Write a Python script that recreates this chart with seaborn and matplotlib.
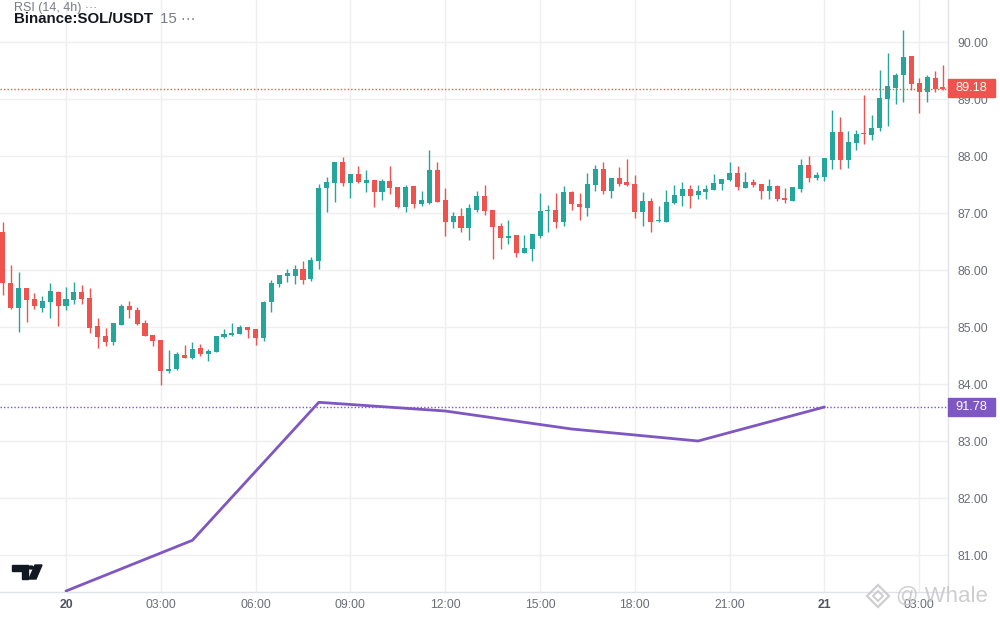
import numpy as np
import pandas as pd
import matplotlib
matplotlib.use("Agg")
import matplotlib.pyplot as plt
import seaborn as sns
from matplotlib.patches import Rectangle, Polygon, Circle

sns.set_theme(style="white")
plt.rcParams["font.family"] = ["Liberation Sans", "DejaVu Sans"]

# 15m candles, Binance SOL/USDT, from 19th 22:00
opens = [86.66, 85.78, 85.34, 85.68, 85.49, 85.34, 85.43, 85.61, 85.37, 85.48,
         85.61, 85.51, 85.01, 84.85, 84.74, 85.04, 85.37, 85.30, 85.07, 84.86,
         84.77, 84.22, 84.26, 84.51, 84.46, 84.63, 84.53, 84.57, 84.83, 84.86,
         84.88, 85.00, 84.97, 84.80, 85.43, 85.76, 85.90, 85.90, 86.02, 85.85,
         86.16, 87.43, 87.53, 87.90, 87.52, 87.69, 87.53, 87.58, 87.36, 87.56,
         87.46, 87.11, 87.48, 87.15, 87.18, 87.76, 87.23, 86.85, 86.95, 86.74,
         87.06, 87.30, 87.06, 86.78, 86.57, 86.62, 86.29, 86.37, 86.60, 87.04,
         87.05, 86.85, 87.37, 87.16, 87.09, 87.50, 87.77, 87.39, 87.61, 87.54,
         87.51, 87.01, 87.21, 86.86, 86.85, 87.18, 87.29, 87.42, 87.32, 87.37,
         87.40, 87.51, 87.58, 87.70, 87.44, 87.54, 87.51, 87.39, 87.47, 87.26,
         87.21, 87.42, 87.84, 87.61, 87.63, 87.93, 88.42, 87.93, 88.23, 88.39,
         88.37, 88.49, 89.00, 89.20, 89.42, 89.76, 89.28, 89.13, 89.37, 89.21]
highs = [86.85, 86.08, 85.97, 85.68, 85.60, 85.54, 85.77, 85.63, 85.70, 85.79,
         85.74, 85.68, 85.15, 84.99, 85.07, 85.40, 85.46, 85.35, 85.12, 84.86,
         84.77, 84.60, 84.56, 84.68, 84.73, 84.70, 84.61, 84.84, 84.97, 85.07,
         85.04, 85.00, 84.97, 85.46, 85.82, 85.91, 86.02, 86.09, 86.16, 86.22,
         87.51, 87.64, 87.90, 87.99, 87.69, 87.83, 87.76, 87.58, 87.60, 87.83,
         87.46, 87.50, 87.48, 87.38, 88.11, 87.90, 87.43, 87.02, 87.09, 87.15,
         87.38, 87.50, 87.06, 86.83, 86.88, 86.62, 86.61, 86.63, 87.35, 87.14,
         87.35, 87.47, 87.39, 87.35, 87.70, 87.84, 87.89, 87.61, 87.81, 87.95,
         87.67, 87.37, 87.26, 87.12, 87.40, 87.49, 87.54, 87.49, 87.49, 87.49,
         87.68, 87.60, 87.90, 87.83, 87.72, 87.60, 87.51, 87.60, 87.49, 87.44,
         87.46, 87.95, 88.00, 87.72, 87.97, 88.81, 88.68, 88.44, 88.46, 89.07,
         88.72, 89.51, 89.81, 89.46, 90.21, 89.76, 89.37, 89.42, 89.49, 89.59]
lows = [85.56, 85.32, 84.92, 85.09, 85.32, 85.27, 85.15, 85.02, 85.30, 85.41,
        85.41, 84.90, 84.64, 84.67, 84.69, 85.04, 85.16, 85.04, 84.85, 84.67,
        83.99, 84.20, 84.24, 84.46, 84.44, 84.50, 84.41, 84.57, 84.81, 84.85,
        84.87, 84.81, 84.68, 84.76, 85.26, 85.71, 85.79, 85.75, 85.75, 85.80,
        86.02, 87.02, 87.20, 87.48, 87.27, 87.53, 87.36, 87.11, 87.22, 87.34,
        87.09, 87.01, 87.09, 87.13, 87.15, 87.20, 86.60, 86.74, 86.67, 86.52,
        87.02, 86.97, 86.20, 86.36, 86.45, 86.22, 86.29, 86.15, 86.57, 86.66,
        86.73, 86.77, 87.06, 86.87, 86.94, 87.39, 87.34, 87.27, 87.48, 87.48,
        86.92, 86.78, 86.67, 86.85, 86.85, 87.15, 87.13, 87.09, 87.25, 87.25,
        87.40, 87.40, 87.56, 87.40, 87.44, 87.46, 87.25, 87.25, 87.21, 87.18,
        87.21, 87.37, 87.54, 87.58, 87.56, 87.77, 87.77, 87.79, 88.11, 88.21,
        88.28, 88.44, 88.52, 88.92, 88.94, 89.15, 88.76, 88.94, 89.13, 89.16]
closes = [85.77, 85.34, 85.68, 85.48, 85.36, 85.46, 85.63, 85.37, 85.49, 85.61,
          85.50, 84.99, 84.83, 84.74, 85.07, 85.37, 85.29, 85.06, 84.85, 84.76,
          84.22, 84.26, 84.53, 84.46, 84.61, 84.53, 84.58, 84.84, 84.88, 84.89,
          85.00, 84.95, 84.81, 85.44, 85.77, 85.91, 85.94, 86.02, 85.83, 86.18,
          87.44, 87.55, 87.90, 87.53, 87.69, 87.55, 87.58, 87.36, 87.56, 87.43,
          87.11, 87.46, 87.15, 87.22, 87.76, 87.20, 86.85, 86.95, 86.73, 87.08,
          87.30, 87.04, 86.76, 86.57, 86.60, 86.30, 86.39, 86.63, 87.04, 87.05,
          86.85, 87.37, 87.15, 87.11, 87.51, 87.77, 87.39, 87.61, 87.51, 87.50,
          87.01, 87.21, 86.85, 86.87, 87.19, 87.32, 87.42, 87.30, 87.39, 87.42,
          87.53, 87.60, 87.70, 87.46, 87.54, 87.49, 87.39, 87.47, 87.25, 87.23,
          87.46, 87.84, 87.61, 87.67, 87.97, 88.42, 87.93, 88.25, 88.39, 88.38,
          88.49, 89.02, 89.22, 89.42, 89.74, 89.26, 89.13, 89.39, 89.18, 89.18]

# RSI(14, 4h) overlay, one point per 4h bar
rsi_hours = [0, 4, 8, 12, 16, 20, 24]
rsi_values = [54.98, 65.12, 92.72, 90.98, 87.38, 84.98, 91.78]

tick_hours = [0, 3, 6, 9, 12, 15, 18, 21, 24, 27]
tick_labels = ["20", "03:00", "06:00", "09:00", "12:00", "15:00", "18:00", "21:00", "21", "03:00"]
price_ticks = [81, 82, 83, 84, 85, 86, 87, 88, 89, 90]
last_price = 89.18
last_rsi = 91.78

UP = "#26a69a"
DOWN = "#ef5350"
PURPLE = "#7e57c2"
GRID = "#efefef"
TXT = "#6a6d78"

times = pd.date_range("2024-11-19 22:00", periods=len(opens), freq="15min")
df = pd.DataFrame({
    "hour": (times - pd.Timestamp("2024-11-20 00:00")) / pd.Timedelta(hours=1),
    "open": opens, "high": highs, "low": lows, "close": closes,
})
df["color"] = np.where(df["close"] >= df["open"], UP, DOWN)

fig = plt.figure(figsize=(10, 6.2), dpi=100)
ax = fig.add_axes([0, 28 / 620, 0.948, 592 / 620])
ax2 = ax.twinx()  # RSI overlay with its own hidden scale

ax.vlines(df["hour"], df["low"], df["high"], colors=df["color"], linewidth=1, zorder=2)
body = np.maximum((df["close"] - df["open"]).abs(), 0.018)
ax.bar(df["hour"], body, bottom=np.minimum(df["open"], df["close"]),
       width=0.16, color=df["color"], linewidth=0, zorder=3)
ax.axhline(last_price, color=DOWN, linestyle=(0, (1, 1.5)), linewidth=1, zorder=4)

ax.set_xlim(-2.089, 27.91)
ax.set_ylim(80.351, 90.737)
ax.set_xticks(tick_hours)
ax.set_xticklabels(tick_labels)
ax.set_yticks(price_ticks)
ax.set_yticklabels([f"{p:.2f}" for p in price_ticks])
ax.yaxis.tick_right()
ax.grid(True, color=GRID, linewidth=1)
ax.set_axisbelow(True)
ax.tick_params(axis="both", length=0, labelsize=8.8, colors=TXT)
ax.tick_params(axis="y", pad=7)
ax.tick_params(axis="x", pad=5)
for lab in ax.get_xticklabels():
    if lab.get_text() in ("20", "21"):
        lab.set_fontweight("bold")
        lab.set_color("#50535e")
for side in ("top", "left"):
    ax.spines[side].set_visible(False)
for side in ("bottom", "right"):
    ax.spines[side].set_color("#e0e3eb")
    ax.spines[side].set_linewidth(1)

sns.lineplot(x=rsi_hours, y=rsi_values, ax=ax2, color=PURPLE, linewidth=2)
ax2.axhline(last_rsi, color=PURPLE, linestyle=(0, (1, 1.5)), linewidth=1)
ax2.set_ylim(54.78, 173.18)
ax2.set_xlim(-2.089, 27.91)
ax2.set_axis_off()

def px(x, y):
    return (x / 1000, 1 - y / 620)

# last value labels on the price scale
for val, yy, col in [(last_price, 88, DOWN), (last_rsi, 407, PURPLE)]:
    fig.add_artist(Rectangle(px(948, yy + 9), 47 / 1000, 18 / 620,
                             transform=fig.transFigure, color=col, zorder=10))
    fig.text(*px(971.5, yy), f"{val:.2f}", ha="center", va="center",
             color="white", fontsize=9.2, zorder=11)

# legend
fig.text(*px(14, 8), "RSI (14, 4h) \u00b7\u00b7\u00b7", ha="left", va="center",
         fontsize=9, color="#787b86")
fig.text(*px(14, 19), "Binance:SOL/USDT", ha="left", va="center",
         fontsize=10.8, fontweight="bold", color="#131722")
fig.text(*px(160, 19), "15 \u00b7\u00b7\u00b7", ha="left", va="center",
         fontsize=10.8, color="#787b86")

# tradingview logo
dark = "#131722"
fig.add_artist(Polygon([px(12, 565), px(28, 565), px(28, 579), px(22, 579),
                        px(22, 571), px(12, 571)], closed=True,
                       transform=fig.transFigure, color=dark))
fig.add_artist(Circle(px(31, 567.5), 2.4 / 1000, transform=fig.transFigure, color=dark))
fig.add_artist(Polygon([px(35, 565), px(42, 565), px(36, 579), px(29, 579)],
                       closed=True, transform=fig.transFigure, color=dark))

# watermark
wm = "#c9c9cc"
cx, cy = 878, 596
for r, lw in [(11, 1.6), (5, 1.4)]:
    fig.add_artist(Polygon([px(cx, cy - r), px(cx + r, cy), px(cx, cy + r), px(cx - r, cy)],
                           closed=True, fill=False, transform=fig.transFigure,
                           edgecolor=wm, linewidth=lw, alpha=0.9))
fig.text(*px(896, 596), "@ Whale", ha="left", va="center", fontsize=16,
         color=wm, alpha=0.9)

fig.savefig("out.png", dpi=100)
